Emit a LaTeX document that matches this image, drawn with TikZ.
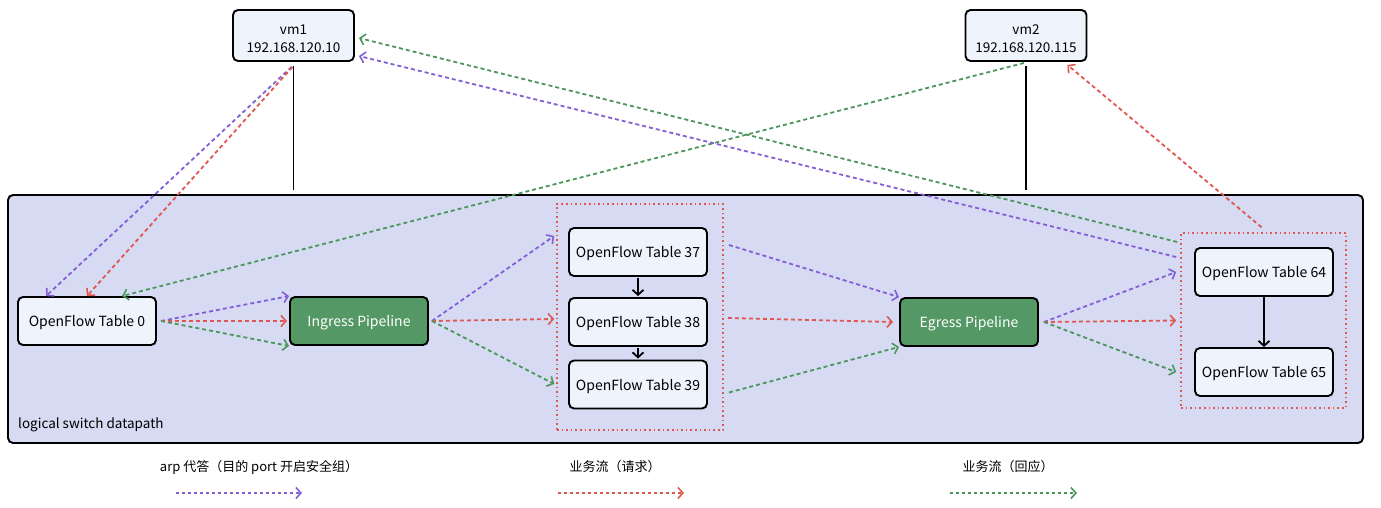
\documentclass[tikz,border=0pt]{standalone}
\usepackage{fontspec}
\setmainfont{Noto Sans CJK SC}
\usetikzlibrary{arrows.meta,calc}
\definecolor{cpurple}{RGB}{132,94,214}
\definecolor{cred}{RGB}{222,88,80}
\definecolor{cgreen}{RGB}{76,150,92}
\definecolor{boxfill}{RGB}{238,243,252}
\definecolor{dpfill}{RGB}{214,219,243}
\definecolor{pipefill}{RGB}{84,153,101}
\tikzset{
  tbl/.style={draw=black, line width=1.9pt, rounded corners=5pt, fill=boxfill, minimum width=138pt, minimum height=48pt, inner sep=0pt, text height=11pt, text depth=0pt, font=\fontsize{14}{17}\selectfont},
  vmbox/.style={draw=black, line width=1.9pt, rounded corners=5pt, fill=boxfill, minimum width=121pt, minimum height=51pt, inner sep=0pt},
  vmtext/.style={align=center, inner sep=0pt, font=\fontsize{13.5}{18}\selectfont},
  pipe/.style={tbl, fill=pipefill, text=white},
  grp/.style={draw=cred, line width=1.6pt, dash pattern=on 1.6pt off 3pt, inner sep=0pt},
  flow/.style={line width=1.8pt, dash pattern=on 4pt off 3pt, -{Straight Barb[length=5pt,width=11pt,line width=1.6pt]}},
  arp/.style={flow, draw=cpurple},
  req/.style={flow, draw=cred},
  rsp/.style={flow, draw=cgreen},
  blk/.style={draw=black, line width=1.9pt},
  blkarrow/.style={blk, -{Straight Barb[length=5pt,width=11pt,line width=1.8pt]}},
  lgd/.style={font=\fontsize{13}{16}\selectfont, inner sep=0pt}
}
\begin{document}
\begin{tikzpicture}[x=1pt,y=-1pt]
\useasboundingbox (0,0) rectangle (1381,508);
% datapath
\node[draw=black, line width=1.9pt, rounded corners=5pt, fill=dpfill, minimum width=1355pt, minimum height=248pt, inner sep=0pt] (dp) at (685.5,319) {};
\node[anchor=base west, font=\fontsize{13.5}{16}\selectfont, inner sep=0pt] (dplabel) at (18,428) {logical switch datapath};
% groups
\node[grp, minimum width=166pt, minimum height=226pt] (g1) at (640,317) {};
\node[grp, minimum width=165pt, minimum height=175pt] (g2) at (1263.5,320.5) {};
% vms
\node[vmbox, label={[vmtext, yshift=-3.5pt]center:{vm1\\192.168.120.10}}] (vm1) at (293.5,35.5) {};
\node[vmbox, label={[vmtext, yshift=-3.5pt]center:{vm2\\192.168.120.115}}] (vm2) at (1026,35.5) {};
% tables
\node[tbl] (t0) at (87,321) {OpenFlow Table 0};
\node[pipe] (ing) at (359,321) {Ingress Pipeline};
\node[tbl] (t37) at (638,252) {OpenFlow Table 37};
\node[tbl] (t38) at (638,322) {OpenFlow Table 38};
\node[tbl] (t39) at (638,384.5) {OpenFlow Table 39};
\node[pipe] (eg) at (969,322) {Egress Pipeline};
\node[tbl] (t64) at (1264,272) {OpenFlow Table 64};
\node[tbl] (t65) at (1264,372) {OpenFlow Table 65};
% vm links
\draw[blk, shorten <=4pt, shorten >=4pt] (vm1.south) -- (vm1.south |- dp.north);
\draw[blk, shorten <=4pt, shorten >=4pt] (vm2.south) -- (vm2.south |- dp.north);
% black arrows
\draw[blkarrow, shorten <=1pt, shorten >=1pt] (t37.south) -- (t38.north);
\draw[blkarrow, shorten <=1pt, shorten >=1pt] (t38.south) -- (t39.north);
\draw[blkarrow] (t64.south) -- (t65.north);
% vm1 -> t0
\draw[arp] ([xshift=-2pt,yshift=-5pt]vm1.south) -- ([xshift=29pt]t0.north west);
\draw[req] ([xshift=-1pt,yshift=-5pt]vm1.south) -- (t0.north);
\draw[rsp] ([xshift=-2pt,yshift=-1pt]vm2.south) -- ([xshift=105pt]t0.north west);
% t0 -> ingress
\draw[arp] ([xshift=4pt]t0.east) -- (ing.north west);
\draw[req] ([xshift=4pt]t0.east) -- ([xshift=-2pt]ing.west);
\draw[rsp] ([xshift=4pt]t0.east) -- (ing.south west);
% ingress -> g1
\draw[arp] ([xshift=3pt]ing.east) -- ([xshift=-2pt,yshift=81pt]g1.west);
\draw[req] ([xshift=3pt]ing.east) -- ([xshift=-2pt,yshift=-2pt]g1.west);
\draw[rsp] ([xshift=3pt]ing.east) -- ([xshift=-2pt,yshift=-67pt]g1.west);
% tables -> egress
\draw[arp] ([xshift=21pt,yshift=7pt]t37.east) -- (eg.north west);
\draw[req] ([xshift=20pt,yshift=4pt]t38.east) -- ([xshift=-6pt]eg.west);
\draw[rsp] ([xshift=21pt,yshift=-8pt]t39.east) -- (eg.south west);
% egress -> g2
\draw[arp] ([xshift=5pt]eg.east) -- ([xshift=-4pt,yshift=48.5pt]g2.west);
\draw[req] ([xshift=5pt]eg.east) -- ([xshift=-4pt]g2.west);
\draw[rsp] ([xshift=5pt]eg.east) -- ([xshift=-4pt,yshift=-51.5pt]g2.west);
% g2 -> vms
\draw[arp] ([xshift=-4pt,yshift=63.5pt]g2.west) -- ([xshift=4pt,yshift=-20.5pt]vm1.east);
\draw[rsp] ([xshift=-3pt,yshift=78.5pt]g2.west) -- ([xshift=4pt,yshift=-2.5pt]vm1.east);
\draw[req] ([xshift=-2pt,yshift=5pt]g2.north) -- ([xshift=-20pt,yshift=-3pt]vm2.south east);
% legend
\node[lgd] (l1) at (259,467) {arp 代答（目的 port 开启安全组）};
\node[lgd] (l2) at (615,467) {业务流（请求）};
\node[lgd] (l3) at (1008,467) {业务流（回应）};
\coordinate (a1s) at (176,493); \coordinate (a1e) at (302,493);
\coordinate (a2s) at (558,493); \coordinate (a2e) at (684,493);
\coordinate (a3s) at (950,493); \coordinate (a3e) at (1077,493);
\draw[arp, dash pattern=on 3pt off 3pt] (a1s) -- (a1e);
\draw[req, dash pattern=on 3pt off 3pt] (a2s) -- (a2e);
\draw[rsp, dash pattern=on 3pt off 3pt] (a3s) -- (a3e);
\end{tikzpicture}
\end{document}
